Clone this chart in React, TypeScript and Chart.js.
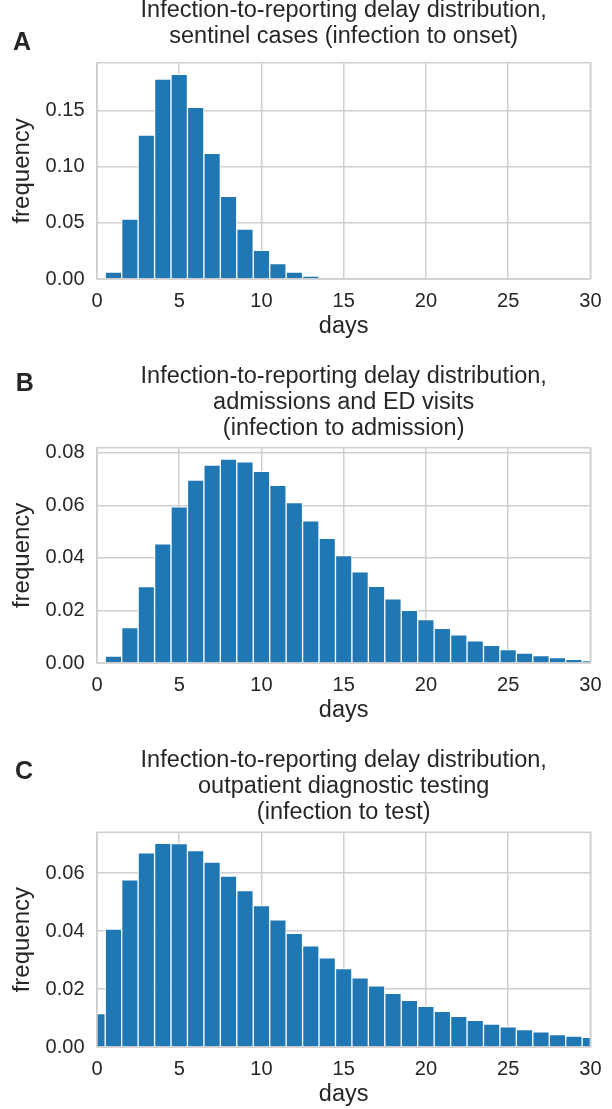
import React, { useEffect, useRef } from "react";
import { Chart, registerables } from "chart.js";

Chart.register(...registerables);

// ---------- data ----------
const daysA = [1, 2, 3, 4, 5, 6, 7, 8, 9, 10, 11, 12, 13];
const freqA = [0.0062, 0.0535, 0.1283, 0.1783, 0.1824, 0.153, 0.112, 0.0737, 0.0446, 0.0256, 0.0137, 0.0062, 0.0027];

const daysB = [1, 2, 3, 4, 5, 6, 7, 8, 9, 10, 11, 12, 13, 14, 15, 16, 17, 18, 19, 20, 21, 22, 23, 24, 25, 26, 27, 28, 29, 30];
const freqB = [0.0026, 0.0135, 0.0291, 0.0453, 0.0594, 0.0696, 0.0753, 0.0776, 0.0765, 0.0729, 0.0676, 0.061, 0.0541, 0.0474, 0.0409, 0.0347, 0.0292, 0.0244, 0.02, 0.0165, 0.0132, 0.0107, 0.0084, 0.0067, 0.0051, 0.0038, 0.0028, 0.0021, 0.0014, 0.0008];

const daysC = [0, 1, 2, 3, 4, 5, 6, 7, 8, 9, 10, 11, 12, 13, 14, 15, 16, 17, 18, 19, 20, 21, 22, 23, 24, 25, 26, 27, 28, 29, 30];
const freqC = [0.0115, 0.0407, 0.0577, 0.067, 0.0703, 0.0702, 0.0678, 0.0638, 0.059, 0.054, 0.0488, 0.0439, 0.0392, 0.0349, 0.0308, 0.0271, 0.0239, 0.0211, 0.0185, 0.0161, 0.014, 0.0123, 0.0106, 0.0092, 0.0079, 0.007, 0.006, 0.0052, 0.0043, 0.0038, 0.0033];

const titleA = ["Infection-to-reporting delay distribution,", "sentinel cases (infection to onset)"];
const titleB = ["Infection-to-reporting delay distribution,", "admissions and ED visits", "(infection to admission)"];
const titleC = ["Infection-to-reporting delay distribution,", "outpatient diagnostic testing", "(infection to test)"];

const xTickStep = 5;
const xMin = 0;
const xMax = 30;
const xLabel = "days";
const yLabel = "frequency";

// ---------- style ----------
const FONT = "'Liberation Sans', Arial, Helvetica, sans-serif";
const TEXT = "#262626";
const GRID = "#cfcfcf";
const BAR = "#1f77b4";

type PanelCfg = {
  letter: string;
  top: number;
  height: number;
  letterX: number;
  letterY: number;
  title: string[];
  titlePadBottom: number;
  days: number[];
  values: number[];
  yMax: number;
  yStep: number;
};

const panels: PanelCfg[] = [
  { letter: "A", top: -2, height: 347, letterX: 22, letterY: 45, title: titleA, titlePadBottom: 12.7, days: daysA, values: freqA, yMax: 0.1928, yStep: 0.05 },
  { letter: "B", top: 364, height: 365, letterX: 24.7, letterY: 20.5, title: titleB, titlePadBottom: 5.7, days: daysB, values: freqB, yMax: 0.0819, yStep: 0.02 },
  { letter: "C", top: 748, height: 365, letterX: 24, letterY: 24.5, title: titleC, titlePadBottom: 6.3, days: daysC, values: freqC, yMax: 0.0741, yStep: 0.02 },
];

const spinesPlugin = {
  id: "spines",
  afterDatasetsDraw(chart: any) {
    const { ctx, chartArea } = chart;
    ctx.save();
    ctx.strokeStyle = GRID;
    ctx.lineWidth = 1.5;
    ctx.strokeRect(chartArea.left, chartArea.top, chartArea.right - chartArea.left, chartArea.bottom - chartArea.top);
    ctx.restore();
  },
};

const letterPlugin = {
  id: "panelLetter",
  afterDraw(chart: any, _args: any, opts: any) {
    const { ctx } = chart;
    ctx.save();
    ctx.fillStyle = TEXT;
    ctx.font = `bold 25px ${FONT}`;
    ctx.textAlign = "center";
    ctx.textBaseline = "middle";
    ctx.fillText(opts.text, opts.x, opts.y);
    ctx.restore();
  },
};

function Panel({ cfg }: { cfg: PanelCfg }) {
  const ref = useRef<HTMLCanvasElement | null>(null);
  useEffect(() => {
    if (!ref.current) return;
    const data = cfg.days.map((d, i) => ({ x: d, y: cfg.values[i] }));
    const chart = new Chart(ref.current, {
      type: "bar",
      data: {
        datasets: [
          {
            data,
            backgroundColor: BAR,
            borderColor: "rgba(255,255,255,0.95)",
            borderWidth: 1,
            barPercentage: 1,
            categoryPercentage: 1,
          } as any,
        ],
      },
      plugins: [spinesPlugin, letterPlugin],
      options: {
        responsive: false,
        animation: false,
        events: [],
        layout: { padding: { left: 0, right: 13, top: 0, bottom: 0 } },
        plugins: {
          legend: { display: false },
          tooltip: { enabled: false },
          title: {
            display: true,
            text: cfg.title,
            fullSize: false,
            color: TEXT,
            font: { family: FONT, size: 23.5, weight: "normal", lineHeight: 26 / 23.5 },
            padding: { top: 0, bottom: cfg.titlePadBottom },
          },
          panelLetter: { text: cfg.letter, x: cfg.letterX, y: cfg.letterY },
        } as any,
        scales: {
          x: {
            type: "linear",
            min: xMin,
            max: xMax,
            offset: false,
            grid: { color: GRID, lineWidth: 1.5, drawTicks: false, offset: false },
            border: { display: false },
            ticks: {
              stepSize: xTickStep,
              color: TEXT,
              font: { family: FONT, size: 20 },
              padding: 10.5,
              maxRotation: 0,
              includeBounds: false,
            },
            title: {
              display: true,
              text: xLabel,
              color: TEXT,
              font: { family: FONT, size: 23.5 },
              padding: { top: 0, bottom: 4 },
            },
            afterFit(scale: any) {
              scale.height = 66;
            },
          } as any,
          y: {
            type: "linear",
            min: 0,
            max: cfg.yMax,
            grid: { color: GRID, lineWidth: 1.5, drawTicks: false },
            border: { display: false },
            ticks: {
              stepSize: cfg.yStep,
              includeBounds: false,
              color: TEXT,
              font: { family: FONT, size: 20 },
              padding: 12.5,
              callback: (v: any) => Number(v).toFixed(2),
            },
            title: {
              display: true,
              text: yLabel,
              color: TEXT,
              font: { family: FONT, size: 24 },
              padding: { top: 7.5, bottom: 0 },
            },
            afterFit(scale: any) {
              scale.width = 97;
            },
          } as any,
        },
      },
    });
    return () => chart.destroy();
  }, [cfg]);
  return (
    <canvas
      ref={ref}
      width={612}
      height={cfg.height}
      style={{ position: "absolute", left: 0, top: cfg.top, width: 612, height: cfg.height, display: "block" }}
    />
  );
}

export default function App() {
  return (
    <div style={{ position: "absolute", left: 0, top: 0, width: 612, height: 1109, overflow: "hidden", background: "#ffffff" }}>
      {panels.map((p) => (
        <Panel key={p.letter} cfg={p} />
      ))}
    </div>
  );
}
